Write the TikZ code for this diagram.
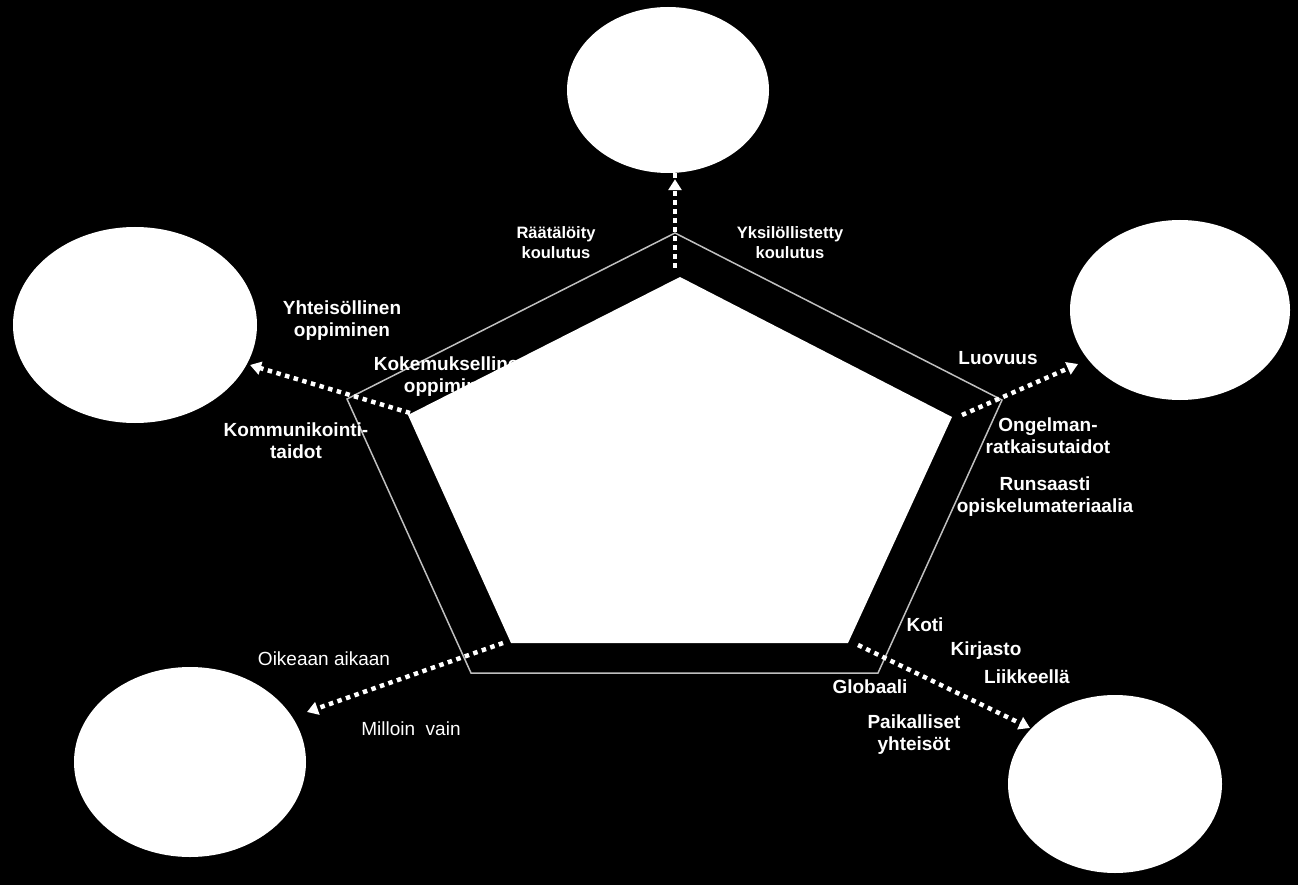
\documentclass[tikz,border=0pt]{standalone}
\usepackage{fontspec}
\setmainfont{Liberation Sans}
\usetikzlibrary{arrows.meta,shapes.geometric}
\tikzset{
  >={Triangle[length=11pt,width=13pt]},
  goal/.style={ellipse,fill=white,inner sep=0pt},
  lbl/.style={text=white,align=center,font=\fontsize{19}{22}\selectfont\bfseries},
  lbls/.style={lbl,font=\fontsize{16.5}{20}\selectfont\bfseries},
  lbln/.style={lbl,font=\fontsize{19}{22}\selectfont},
  rim/.style={draw=white!75!black,line width=1.5pt,line join=miter},
  link/.style={->,draw=white,line width=4.5pt,dash pattern=on 4.5pt off 4.5pt},
}
\begin{document}
\begin{tikzpicture}[x=1pt,y=-1pt]
  \fill[black] (0,0) rectangle (1298,885);
  \useasboundingbox (0,0) rectangle (1298,885);
  % ellipses
  \node[goal,minimum width=202pt,minimum height=166pt] (e-top) at (668,90) {};
  \node[goal,minimum width=244pt,minimum height=196pt] (e-left) at (135,325) {};
  \node[goal,minimum width=220pt,minimum height=180pt] (e-right) at (1180,310) {};
  \node[goal,minimum width=232pt,minimum height=190pt] (e-bl) at (190,762) {};
  \node[goal,minimum width=214pt,minimum height=178pt] (e-br) at (1115,784) {};
  % outer pentagon
  \draw[rim] (675,233) -- (1002,400) -- (878,673) -- (471,673) -- (347,399) -- cycle;
  % labels
  \node[lbls] (raat) at (556,243) {Räätälöity\\koulutus};
  \node[lbls] (yksi) at (790,243) {Yksilöllistetty\\koulutus};
  \node[lbl] (yhte) at (342,321) {Yhteisöllinen\\oppiminen};
  \node[lbl] (koke) at (452,377) {Kokemuksellinen\\oppiminen};
  \node[lbl] (komm) at (296,441) {Kommunikointi-\\taidot};
  \node[lbl] (luov) at (998,358) {Luovuus};
  \node[lbl] (onge) at (1048,436) {Ongelman-\\ratkaisutaidot};
  \node[lbl] (runs) at (1045,497) {Runsaasti\\opiskelumateriaalia};
  \node[lbl] (koti) at (925,625) {Koti};
  \node[lbl] (kirj) at (986,651) {Kirjasto};
  \node[lbl] (liik) at (1027,677) {Liikkeellä};
  \node[lbl] (glob) at (870,687) {Globaali};
  \node[lbl] (paik) at (914,735) {Paikalliset\\yhteisöt};
  \node[lbln] (oike) at (324,659) {Oikeaan aikaan};
  \node[lbln] (mill) at (411,729) {Milloin\ \ vain};
  % inner pentagon
  \fill[white] (680,277) -- (952,417) -- (848,643) -- (511,643) -- (408,415) -- cycle;
  % arrows
  \coordinate (s-top) at (675,268);
  \coordinate (s-left) at (410,413);
  \coordinate (s-right) at (962,415);
  \coordinate (s-bl) at (503,643);
  \coordinate (s-br) at (858,645);
  \coordinate (t-left) at (250,365);
  \coordinate (t-right) at (1078,364);
  \coordinate (t-bl) at (307,712);
  \coordinate (t-br) at (1030,728);
  \draw[link] (s-top) -- (s-top |- e-top.south) ++(0,6);
  \draw[link] (s-left) -- (t-left);
  \draw[link] (s-right) -- (t-right);
  \draw[link] (s-bl) -- (t-bl);
  \draw[link] (s-br) -- (t-br);
\end{tikzpicture}
\end{document}
